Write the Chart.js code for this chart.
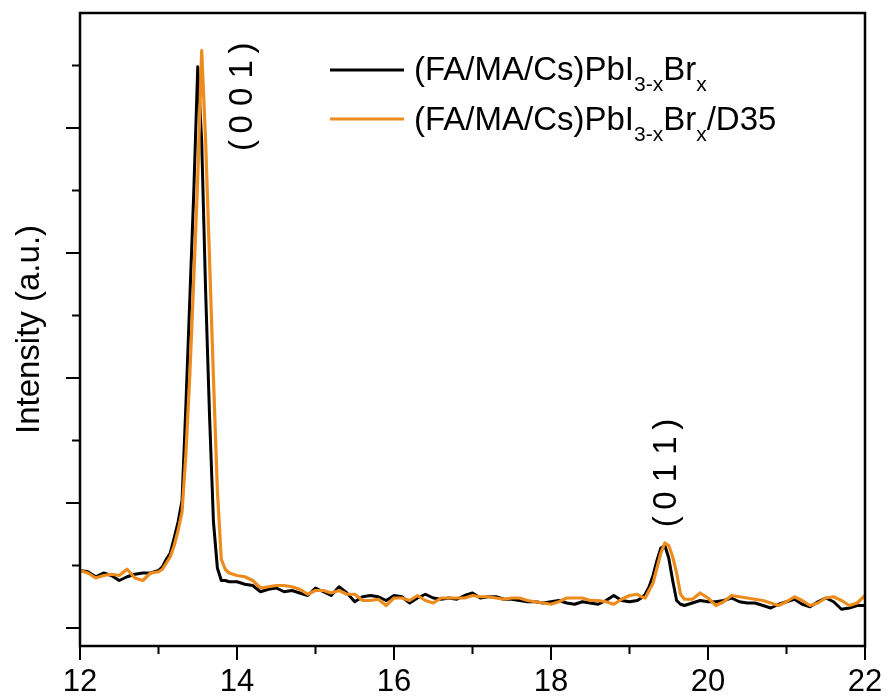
<!DOCTYPE html>
<html>
<head>
<meta charset="utf-8">
<script src="https://cdn.jsdelivr.net/npm/chart.js@4.4.1/dist/chart.umd.min.js"></script>
<style>
  html, body { margin: 0; padding: 0; background: #fff; }
  #wrap { width: 888px; height: 700px; }
</style>
</head>
<body>
<div id="wrap"><canvas id="myChart" width="888" height="700"></canvas></div>
<script>
// 2theta (deg)
const twoTheta = [
  12.0, 12.1, 12.2, 12.3, 12.4, 12.5, 12.6, 12.7, 12.8, 12.9, 13.0,
  13.05, 13.1, 13.15, 13.2, 13.25, 13.3, 13.35, 13.4, 13.45, 13.5, 13.55, 13.6, 13.65, 13.7, 13.75, 13.8, 13.85, 13.9,
  14.0, 14.1, 14.2, 14.3, 14.4, 14.5, 14.6, 14.7, 14.8, 14.9,
  15.0, 15.1, 15.2, 15.3, 15.4, 15.5, 15.6, 15.7, 15.8, 15.9,
  16.0, 16.1, 16.2, 16.3, 16.4, 16.5, 16.6, 16.7, 16.8, 16.9,
  17.0, 17.1, 17.2, 17.3, 17.4, 17.5, 17.6, 17.7, 17.8, 17.9,
  18.0, 18.1, 18.2, 18.3, 18.4, 18.5, 18.6, 18.7, 18.8, 18.9,
  19.0, 19.1,
  19.15, 19.2, 19.25, 19.3, 19.35, 19.4, 19.45, 19.5, 19.55, 19.6, 19.65, 19.7,
  19.8, 19.9,
  20.0, 20.1, 20.2, 20.3, 20.4, 20.5, 20.6, 20.7, 20.8, 20.9,
  21.0, 21.1, 21.2, 21.3, 21.4, 21.5, 21.6, 21.7, 21.8, 21.9,
  22.0
];

// (FA/MA/Cs)PbI3-xBrx
const pristine = [
  0.46, 0.45, 0.41, 0.44, 0.42, 0.38, 0.41, 0.43, 0.44, 0.44, 0.46,
  0.49, 0.55, 0.60, 0.72, 0.85, 1.02, 1.80, 2.65, 3.50, 4.49, 3.90, 2.70, 1.70, 0.85, 0.48, 0.38, 0.38, 0.37,
  0.37, 0.35, 0.34, 0.29, 0.31, 0.32, 0.29, 0.30, 0.28, 0.26,
  0.32, 0.29, 0.26, 0.33, 0.28, 0.21, 0.25, 0.26, 0.25, 0.22,
  0.26, 0.25, 0.20, 0.24, 0.27, 0.24, 0.23, 0.24, 0.23, 0.26,
  0.28, 0.24, 0.25, 0.25, 0.23, 0.23, 0.22, 0.21, 0.21, 0.20,
  0.21, 0.22, 0.20, 0.19, 0.21, 0.20, 0.19, 0.22, 0.26, 0.22,
  0.21, 0.22,
  0.24, 0.27, 0.33, 0.42, 0.54, 0.64, 0.66, 0.56, 0.38, 0.22, 0.19, 0.18,
  0.20, 0.22,
  0.21, 0.21, 0.22, 0.24, 0.21, 0.20, 0.20, 0.18, 0.16, 0.19,
  0.21, 0.23, 0.19, 0.17, 0.21, 0.24, 0.21, 0.15, 0.16, 0.18,
  0.18
];

// (FA/MA/Cs)PbI3-xBrx/D35
const withD35 = [
  0.46, 0.44, 0.40, 0.42, 0.43, 0.42, 0.47, 0.40, 0.38, 0.44, 0.45,
  0.47, 0.52, 0.57, 0.66, 0.78, 0.93, 1.40, 2.04, 2.80, 3.60, 4.62, 3.90, 2.95, 2.00, 1.10, 0.55, 0.47, 0.44,
  0.42, 0.41, 0.38, 0.32, 0.33, 0.34, 0.34, 0.33, 0.31, 0.27,
  0.30, 0.30, 0.28, 0.30, 0.27, 0.27, 0.22, 0.22, 0.23, 0.18,
  0.24, 0.24, 0.22, 0.26, 0.22, 0.20, 0.24, 0.24, 0.24, 0.24,
  0.26, 0.25, 0.25, 0.24, 0.23, 0.24, 0.24, 0.22, 0.21, 0.20,
  0.19, 0.21, 0.24, 0.24, 0.24, 0.22, 0.22, 0.21, 0.19, 0.23,
  0.26, 0.27,
  0.25, 0.24, 0.30, 0.36, 0.48, 0.60, 0.68, 0.66, 0.57, 0.44, 0.27, 0.23,
  0.23, 0.28,
  0.24, 0.18, 0.21, 0.26, 0.25, 0.24, 0.23, 0.22, 0.20, 0.18,
  0.21, 0.25, 0.22, 0.18, 0.20, 0.24, 0.25, 0.22, 0.18, 0.20,
  0.26
];

const xMajor = [12, 14, 16, 18, 20, 22];
const xMinor = [13, 15, 17, 19, 21];
const yMajor = [0, 1, 2, 3, 4];
const yMinor = [0.5, 1.5, 2.5, 3.5, 4.5];

const peakLabels = ['(\u20090 0 1\u2009)', '(\u20090 1 1\u2009)'];
const peakLabelX = [14.08, 19.48];
const peakLabelY = [4.25, 1.24];

const BLACK = '#000000';
const ORANGE = '#ED8B1C';
const FONT = "'Liberation Sans', Arial, sans-serif";

const toPoints = (ys) => twoTheta.map((t, i) => ({ x: t, y: ys[i] }));

// frame, tick marks, peak labels, legend with subscripts
const decorations = {
  id: 'decorations',
  afterDraw(chart) {
    const ctx = chart.ctx;
    const a = chart.chartArea;
    const xs = chart.scales.x;
    const ys = chart.scales.y;
    ctx.save();
    ctx.strokeStyle = BLACK;
    ctx.lineWidth = 2.5;
    ctx.strokeRect(a.left, a.top, a.right - a.left, a.bottom - a.top);

    ctx.lineWidth = 2;
    ctx.beginPath();
    xMajor.forEach(v => { const p = xs.getPixelForValue(v); ctx.moveTo(p, a.bottom); ctx.lineTo(p, a.bottom + 14); });
    xMinor.forEach(v => { const p = xs.getPixelForValue(v); ctx.moveTo(p, a.bottom); ctx.lineTo(p, a.bottom + 8); });
    yMajor.forEach(v => { const p = ys.getPixelForValue(v); ctx.moveTo(a.left, p); ctx.lineTo(a.left - 14, p); });
    yMinor.forEach(v => { const p = ys.getPixelForValue(v); ctx.moveTo(a.left, p); ctx.lineTo(a.left - 8, p); });
    ctx.stroke();

    // peak labels, rotated
    ctx.fillStyle = BLACK;
    ctx.font = '33px ' + FONT;
    ctx.textAlign = 'center';
    ctx.textBaseline = 'middle';
    peakLabels.forEach((txt, i) => {
      ctx.save();
      ctx.translate(xs.getPixelForValue(peakLabelX[i]), ys.getPixelForValue(peakLabelY[i]));
      ctx.rotate(-Math.PI / 2);
      ctx.fillText(txt, 0, 0);
      ctx.restore();
    });

    // legend
    const rows = [
      { color: BLACK, parts: [['(FA/MA/Cs)PbI', 0], ['3-x', 1], ['Br', 0], ['x', 1]], lineY: 70, base: 80 },
      { color: ORANGE, parts: [['(FA/MA/Cs)PbI', 0], ['3-x', 1], ['Br', 0], ['x', 1], ['/D35', 0]], lineY: 119, base: 130 }
    ];
    ctx.textAlign = 'left';
    ctx.textBaseline = 'alphabetic';
    rows.forEach(r => {
      ctx.strokeStyle = r.color;
      ctx.lineWidth = 3;
      ctx.beginPath();
      ctx.moveTo(330, r.lineY);
      ctx.lineTo(404, r.lineY);
      ctx.stroke();
      let x = 414;
      r.parts.forEach(([t, sub]) => {
        ctx.font = (sub ? '21px ' : '33px ') + FONT;
        ctx.fillText(t, x, r.base + (sub ? 11 : 0));
        x += ctx.measureText(t).width;
      });
    });
    ctx.restore();
  }
};

Chart.defaults.color = BLACK;
Chart.defaults.font.family = FONT;

const ctx = document.getElementById('myChart').getContext('2d');
new Chart(ctx, {
  type: 'line',
  data: {
    datasets: [
      {
        label: '(FA/MA/Cs)PbI3-xBrx/D35',
        data: toPoints(withD35),
        borderColor: ORANGE,
        borderWidth: 3.2,
        pointRadius: 0,
        tension: 0,
        borderJoinStyle: 'round'
      },
      {
        label: '(FA/MA/Cs)PbI3-xBrx',
        data: toPoints(pristine),
        borderColor: BLACK,
        borderWidth: 3,
        pointRadius: 0,
        tension: 0,
        borderJoinStyle: 'round'
      }
    ]
  },
  options: {
    responsive: false,
    animation: false,
    layout: { padding: { top: 13, right: 23, left: 0, bottom: 0 } },
    plugins: {
      legend: { display: false },
      tooltip: { enabled: false }
    },
    scales: {
      x: {
        type: 'linear',
        min: 12,
        max: 22,
        afterFit: (s) => { s.height = 54; s.paddingLeft = 0; s.paddingRight = 0; },
        grid: { display: false, drawTicks: false },
        border: { display: false },
        ticks: { stepSize: 2, padding: 18, font: { size: 31 }, color: BLACK, maxRotation: 0 }
      },
      y: {
        min: -0.144,
        max: 4.92,
        afterFit: (s) => { s.width = 80; },
        grid: { display: false, drawTicks: false },
        border: { display: false },
        ticks: { display: false },
        title: {
          display: true,
          text: 'Intensity (a.u.)',
          font: { size: 33 },
          color: BLACK,
          padding: { top: 10, bottom: 0 }
        }
      }
    }
  },
  plugins: [decorations]
});
</script>
</body>
</html>
